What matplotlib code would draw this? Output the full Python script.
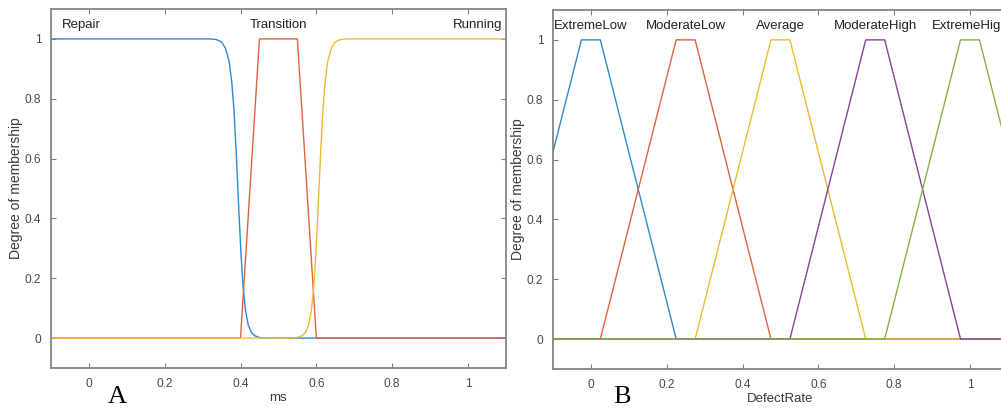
import matplotlib
matplotlib.use("Agg")
import matplotlib.pyplot as plt

plt.rcParams['font.family'] = ['Liberation Sans', 'DejaVu Sans']

# membership functions for machine state (ms)
repair_x = [-0.1, 0.32, 0.336, 0.35, 0.36, 0.37, 0.377, 0.383, 0.389, 0.395, 0.401,
            0.407, 0.413, 0.42, 0.428, 0.437, 0.45, 0.47, 0.50, 1.1]
repair_y = [1.0, 1.0, 0.998, 0.99, 0.97, 0.925, 0.855, 0.757, 0.61, 0.443, 0.287,
            0.169, 0.093, 0.046, 0.02, 0.008, 0.002, 0.0, 0.0, 0.0]
transition_pts = [0.4, 0.45, 0.55, 0.6]
running_x = [-0.1, 0.50, 0.53, 0.55, 0.563, 0.572, 0.58, 0.587, 0.593, 0.599, 0.605,
             0.611, 0.617, 0.623, 0.63, 0.64, 0.65, 0.664, 0.68, 1.1]
running_y = [0.0, 0.0, 0.0, 0.002, 0.008, 0.02, 0.046, 0.093, 0.169, 0.287, 0.443,
             0.61, 0.757, 0.855, 0.925, 0.97, 0.99, 0.998, 1.0, 1.0]
ms_labels = ["Repair", "Transition", "Running"]

# membership functions for defect rate (trapezoids a, b, c, d)
defect_names = ["ExtremeLow", "ModerateLow", "Average", "ModerateHigh", "ExtremeHigh"]
defect_params = [
    [-0.225, -0.025, 0.025, 0.225],
    [0.025, 0.225, 0.275, 0.475],
    [0.275, 0.475, 0.525, 0.725],
    [0.525, 0.725, 0.775, 0.975],
    [0.775, 0.975, 1.025, 1.225],
]
defect_centers = [0.0, 0.25, 0.5, 0.75, 1.0]

colors = ['#2a8ccc', '#dc6340', '#ecbb35', '#85449a', '#82b443']
ticks_x = [0, 0.2, 0.4, 0.6, 0.8, 1]
ticks_y = [0, 0.2, 0.4, 0.6, 0.8, 1]


def trap_line(p, lo=-0.1, hi=1.1):
    xs = [min(lo, p[0]), p[0], p[1], p[2], p[3], max(hi, p[3])]
    ys = [0, 0, 1, 1, 0, 0]
    return xs, ys


def style_axes(ax, xlabel):
    ax.set_xlim(-0.1, 1.1)
    ax.set_ylim(-0.1, 1.1)
    ax.set_xticks(ticks_x)
    ax.set_xticklabels(['0', '0.2', '0.4', '0.6', '0.8', '1'])
    ax.set_yticks(ticks_y)
    ax.set_yticklabels(['0', '0.2', '0.4', '0.6', '0.8', '1'])
    ax.tick_params(direction='in', length=3.5, width=0.8, top=True, right=True,
                   colors='#808080', labelcolor='#484848', labelsize=8.6, pad=7)
    for s in ax.spines.values():
        s.set_color('#858585')
        s.set_linewidth(1.3)
    ax.set_xlabel(xlabel, fontsize=9.5, color='#3a3a3a', labelpad=2)
    ax.set_ylabel("Degree of membership", fontsize=10, color='#3a3a3a', labelpad=1.5)


fig = plt.figure(figsize=(10.01, 4.15), dpi=100)
ax1 = fig.add_axes([0.0509, 0.1133, 0.4545, 0.865])
ax2 = fig.add_axes([0.5524, 0.1110, 0.4545, 0.865])

# panel A
ax1.plot(repair_x, repair_y, color=colors[0], lw=1.0)
tx, ty = trap_line(transition_pts)
ax1.plot(tx, ty, color=colors[1], lw=1.0)
ax1.plot(running_x, running_y, color=colors[2], lw=1.0)
ax1.text(-0.07, 1.047, ms_labels[0], ha='left', va='center', fontsize=9.5, color='#222222')
ax1.text(0.5, 1.047, ms_labels[1], ha='center', va='center', fontsize=9.5, color='#222222')
ax1.text(1.09, 1.047, ms_labels[2], ha='right', va='center', fontsize=9.5, color='#222222')
style_axes(ax1, "ms")

# panel B
for name, p, c, col in zip(defect_names, defect_params, defect_centers, colors):
    xs, ys = trap_line(p)
    ax2.plot(xs, ys, color=col, lw=1.0)
    ax2.text(c, 1.047, name, ha='center', va='center', fontsize=9.5, color='#222222',
             clip_on=False)
style_axes(ax2, "DefectRate")

fig.text(117 / 1001, 1 - 397 / 415, "A", family='Liberation Serif', fontsize=19,
         ha='center', va='center', color='black')
fig.text(622 / 1001, 1 - 397 / 415, "B", family='Liberation Serif', fontsize=19,
         ha='center', va='center', color='black')

fig.savefig("out.png", dpi=100, facecolor='white')
